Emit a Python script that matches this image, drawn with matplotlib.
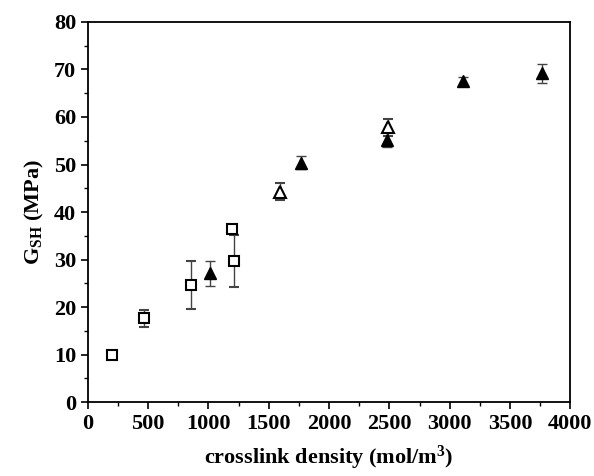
import matplotlib.pyplot as plt
from matplotlib.ticker import MultipleLocator

plt.rcParams['font.family'] = ['Liberation Serif', 'DejaVu Serif']
plt.rcParams['font.weight'] = 'bold'
plt.rcParams['mathtext.fontset'] = 'custom'
plt.rcParams['mathtext.rm'] = 'Liberation Serif:bold'
plt.rcParams['mathtext.it'] = 'Liberation Serif:bold'
plt.rcParams['mathtext.bf'] = 'Liberation Serif:bold'

# open squares
sq_x = [197, 468, 855, 1192, 1212]
sq_y = [10.0, 17.7, 24.7, 36.4, 29.7]
sq_err = [0.4, 1.8, 5.0, 0.6, 5.4]

# open triangles
ot_x = [1590, 2487]
ot_y = [44.3, 57.8]
ot_err = [1.8, 1.8]

# filled triangles
ft_x = [1010, 1768, 2479, 3107, 3765]
ft_y = [27.1, 50.4, 55.2, 67.6, 69.2]
ft_err = [2.7, 1.3, 1.6, 0.8, 2.0]

fig = plt.figure(figsize=(5.94, 4.76), dpi=100)
ax = fig.add_axes([0.148, 0.155, 0.812, 0.799])

eb = dict(ecolor='#444444', elinewidth=1.0, capsize=3.5, capthick=1.0, linestyle='none')
ax.errorbar(sq_x, sq_y, yerr=sq_err, marker='s', ms=7, mfc='white', mec='black', mew=1.5, **eb)
ax.errorbar(ft_x, ft_y, yerr=ft_err, marker='^', ms=9, mfc='black', mec='black', mew=1.0, **eb)
ax.errorbar(ot_x, ot_y, yerr=ot_err, marker='^', ms=9, mfc='white', mec='black', mew=1.5, **eb)

ax.set_xlim(0, 4000)
ax.set_ylim(0, 80)
ax.xaxis.set_major_locator(MultipleLocator(500))
ax.xaxis.set_minor_locator(MultipleLocator(250))
ax.yaxis.set_major_locator(MultipleLocator(10))
ax.yaxis.set_minor_locator(MultipleLocator(5))
ax.tick_params(which='both', direction='out', top=False, right=False, labelsize=16)
ax.tick_params(which='major', length=5, width=1.2)
ax.tick_params(which='minor', length=3, width=1.0)
for s in ax.spines.values():
    s.set_linewidth(1.3)

ax.set_xlabel('crosslink density (mol/m$^3$)', fontsize=16, fontweight='bold', labelpad=7)
ax.set_ylabel(r'G$_\mathrm{SH}$ (MPa)', fontsize=16, fontweight='bold', labelpad=6)

fig.savefig('out.png', dpi=100)
